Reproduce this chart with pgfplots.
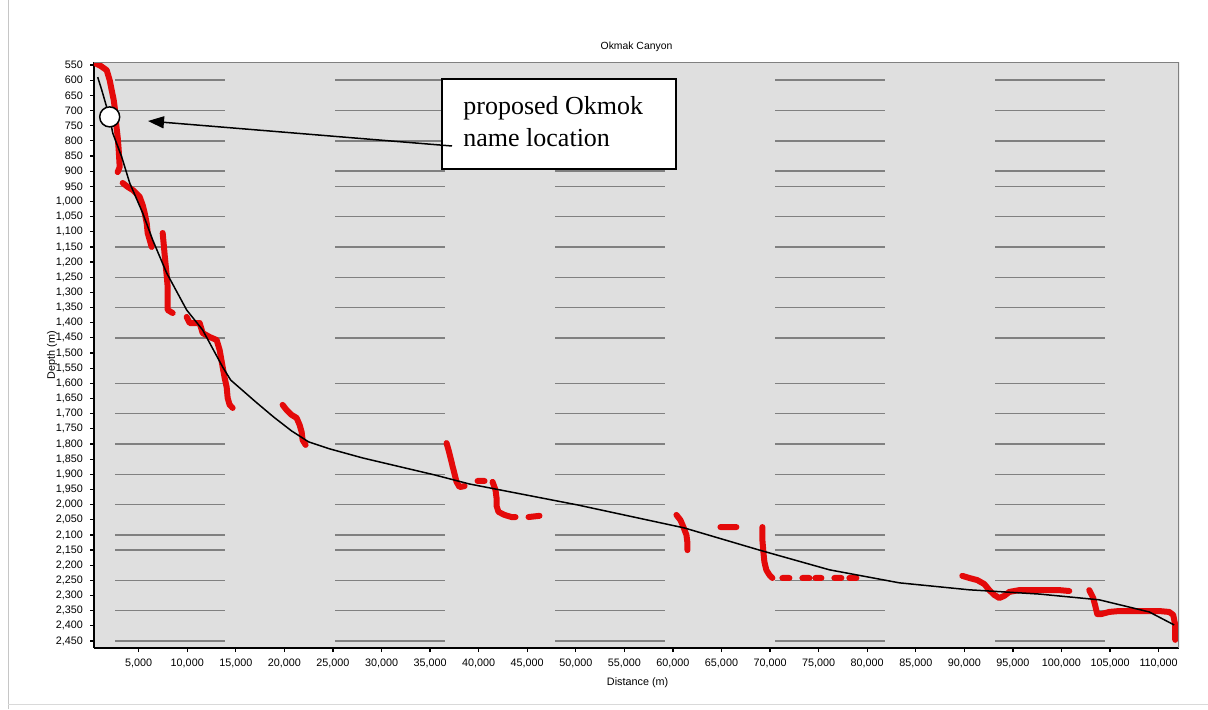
\documentclass[border=0pt]{standalone}
\usepackage{pgfplots}
\pgfplotsset{compat=1.18}
\usepackage{pgfplotstable}
\usepackage{fontspec}
\setmainfont{Liberation Sans}
\newfontfamily\serif{Liberation Serif}
\usetikzlibrary{arrows.meta}
\definecolor{redpts}{RGB}{228,10,10}

\pgfplotstableread{
x y
473 543
1091 553
1708 567
2016 600
2222 633
2428 665
2531 689
2634 731
2840 788
2943 830
3046 886
2840 903
nan nan
3355 939
3869 952
4384 962
5104 985
5413 1012
5618 1038
5824 1071
5927 1104
6133 1127
6339 1150
nan nan
7471 1104
7574 1140
7676 1177
7779 1210
7882 1243
7985 1282
7985 1325
7985 1358
8500 1368
nan nan
9940 1381
10249 1401
11278 1401
11587 1434
12307 1447
13027 1457
13336 1490
13645 1546
13850 1582
14056 1612
14159 1648
14365 1671
14674 1681
nan nan
19818 1671
20230 1688
20744 1704
21259 1714
21568 1737
21774 1760
21877 1787
22186 1803
nan nan
36694 1797
36900 1820
37106 1846
37312 1873
37518 1899
37723 1925
38032 1942
38547 1939
nan nan
39885 1922
40605 1922
nan nan
41428 1925
41737 1952
41840 1978
41840 2004
42046 2024
42663 2034
43383 2041
43795 2041
nan nan
45133 2041
46264 2037
nan nan
60361 2034
60773 2051
61081 2074
61390 2100
61493 2126
61493 2150
nan nan
64889 2074
66535 2074
nan nan
69210 2074
69210 2117
69313 2156
69416 2189
69622 2216
69931 2232
70240 2242
nan nan
71269 2242
71989 2242
nan nan
73327 2242
74047 2242
nan nan
74664 2242
75282 2242
nan nan
76620 2242
77340 2242
nan nan
78163 2242
78883 2242
nan nan
89791 2235
90511 2242
91334 2249
92054 2262
92569 2282
93083 2298
93598 2308
94112 2301
94627 2288
95656 2282
96685 2282
98229 2282
99772 2282
100801 2285
nan nan
102859 2282
103271 2308
103477 2334
103683 2361
104094 2361
104917 2354
105946 2351
108004 2351
110062 2351
111091 2354
111502 2364
111708 2397
111708 2446
}\reddata

\pgfplotstableread{
x y
782 590
1194 632
1708 689
2016 721
2325 774
3252 853
4075 939
5413 1038
6442 1127
7882 1236
9940 1358
11587 1424
13645 1546
14468 1589
17041 1661
18893 1711
20745 1757
22494 1793
24655 1816
28051 1846
35460 1902
39061 1932
42766 1955
50174 2001
61184 2077
68902 2150
76105 2215
83308 2258
90511 2281
97714 2295
103888 2314
109033 2354
111605 2397
}\fitdata

\begin{document}
\begin{tikzpicture}
\useasboundingbox (0,0) rectangle (604pt,354.5pt);
\draw[gray!45, line width=0.5pt] (4pt,0) -- (4pt,354.5pt);
\draw[gray!30, line width=0.5pt] (4pt,2.5pt) -- (604pt,2.5pt);
\begin{axis}[
  at={(47pt,30.5pt)}, anchor=south west,
  scale only axis, width=542.5pt, height=293pt,
  xmin=400, xmax=112100, ymin=540, ymax=2473, y dir=reverse,
  axis background/.style={fill=gray!25},
  axis lines*=left, axis line style={black, line width=0.8pt, -},
  xtick={5000,10000,...,110000}, ytick={550,600,...,2450},
  xtick pos=left, ytick pos=left,
  scaled x ticks=false, scaled y ticks=false,
  tick align=outside, major tick length=2pt,
  tick style={black, line width=0.6pt},
  ticklabel style={font=\fontsize{5.4}{6}\selectfont},
  xticklabel={\pgfmathprintnumber[fixed,precision=0,1000 sep={,},assume math mode=true]{\tick}},
  yticklabel={\pgfmathprintnumber[fixed,precision=0,1000 sep={,},assume math mode=true]{\tick}},
  extra y ticks={600,700,800,900,950,1050,1150,1250,1350,1450,1600,1700,1800,1900,2000,2100,2150,2250,2350,2450},
  extra y tick labels={},
  extra y tick style={grid=major, major tick length=0pt},
  major grid style={draw=black!50, line width=0.7pt, dash pattern=on 55pt off 55pt, dash phase=99.5pt},
  title={Okmak Canyon},
  title style={font=\fontsize{5.2}{6}\selectfont, at={(axis description cs:0.5,1.005)}, anchor=center},
  xlabel={Distance (m)},
  xlabel style={font=\fontsize{5.4}{6}\selectfont, at={(axis description cs:0.501,-0.0597)}, anchor=center},
  ylabel={Depth (m)},
  ylabel style={font=\fontsize{5.4}{6}\selectfont, at={(axis description cs:-0.0387,0.5)}, anchor=center},
]
\addplot[redpts, line width=3pt, line join=round, line cap=round, unbounded coords=jump] table {\reddata};
\addplot[black, line width=0.75pt, line join=round] table {\fitdata};
\addplot[only marks, mark=*, mark size=5pt, mark options={fill=white, draw=black, line width=0.75pt}] coordinates {(2016,721)};
\draw[black!50, line width=0.8pt] (axis description cs:0,1) -- (axis description cs:1,1) -- (axis description cs:1,0);
\end{axis}
\draw[fill=white, line width=0.75pt] (221pt,270pt) rectangle (338pt,315pt);
\node[anchor=base west, inner sep=0pt, font=\serif\fontsize{13}{16}\selectfont] at (231.5pt,297.5pt) {proposed Okmok};
\node[anchor=base west, inner sep=0pt, font=\serif\fontsize{13}{16}\selectfont] at (231.5pt,281.5pt) {name location};
\draw[line width=0.75pt, -{Triangle[length=8pt,width=6pt]}] (226pt,281.5pt) -- (74pt,294pt);
\end{tikzpicture}
\end{document}
